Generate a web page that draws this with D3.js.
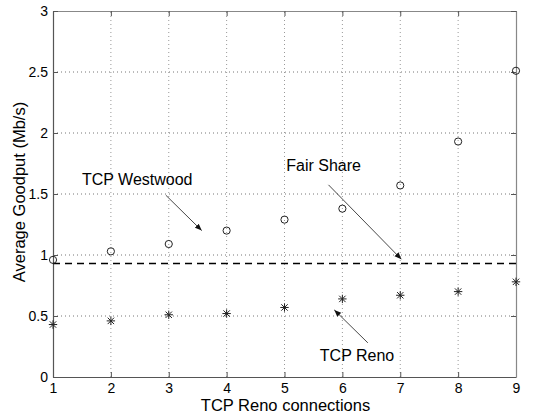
<!DOCTYPE html>
<html>
<head>
<meta charset="utf-8">
<script src="https://cdn.jsdelivr.net/npm/d3@7/dist/d3.min.js"></script>
<style>
  html, body { margin: 0; padding: 0; background: #fff; }
  svg { display: block; font-family: "Liberation Sans", Arial, Helvetica, sans-serif; }
</style>
</head>
<body>
<svg id="chart" width="539" height="420"></svg>
<script>
// Average goodput per flow vs. number of TCP Reno connections
const connections = [1, 2, 3, 4, 5, 6, 7, 8, 9];
const westwoodGoodput = [0.96, 1.03, 1.09, 1.20, 1.29, 1.38, 1.57, 1.93, 2.51];
const renoGoodput = [0.43, 0.46, 0.51, 0.52, 0.57, 0.64, 0.67, 0.70, 0.78];
const fairShare = 0.93;
const xTicks = [1, 2, 3, 4, 5, 6, 7, 8, 9];
const yTicks = [0, 0.5, 1, 1.5, 2, 2.5, 3];

// Text annotations with arrows, positioned in data units
const annotations = [
  { text: "TCP Westwood", tx: 1.50, ty: 1.575, from: [2.95, 1.49], to: [3.57, 1.20] },
  { text: "Fair Share", tx: 5.03, ty: 1.69, from: [5.76, 1.575], to: [7.02, 0.965] },
  { text: "TCP Reno", tx: 5.61, ty: 0.13, from: [6.44, 0.28], to: [5.86, 0.55] }
];

const svg = d3.select("#chart");
const margin = { left: 53, right: 23, top: 11, bottom: 43 };
const W = 539, H = 420;

const x = d3.scaleLinear().domain([1, 9]).range([margin.left, W - margin.right]);
const y = d3.scaleLinear().domain([0, 3]).range([H - margin.bottom, margin.top]);

const g = svg.append("g");

// dotted grid
g.append("g").selectAll("line").data(xTicks.slice(1, -1)).join("line")
  .attr("x1", d => x(d)).attr("x2", d => x(d))
  .attr("y1", y(0)).attr("y2", y(3))
  .attr("stroke", "#999").attr("stroke-width", 1).attr("stroke-dasharray", "1,3");
g.append("g").selectAll("line").data(yTicks.slice(1, -1)).join("line")
  .attr("x1", x(1)).attr("x2", x(9))
  .attr("y1", d => y(d)).attr("y2", d => y(d))
  .attr("stroke", "#777").attr("stroke-width", 1).attr("stroke-dasharray", "1,3");

// axes (ticks pointing inward, box on all sides)
const axisColor = "#555";
const axisB = g.append("g").attr("transform", `translate(0,${y(0)})`)
  .call(d3.axisBottom(x).tickValues(xTicks).tickFormat(d3.format("d")).tickSizeInner(-5).tickSizeOuter(0).tickPadding(6));
const axisT = g.append("g").attr("transform", `translate(0,${y(3)})`)
  .call(d3.axisTop(x).tickValues(xTicks).tickFormat("").tickSizeInner(-5).tickSizeOuter(0));
const axisL = g.append("g").attr("transform", `translate(${x(1)},0)`)
  .call(d3.axisLeft(y).tickValues(yTicks).tickFormat(d => String(d)).tickSizeInner(-5).tickSizeOuter(0).tickPadding(5));
const axisR = g.append("g").attr("transform", `translate(${x(9)},0)`)
  .call(d3.axisRight(y).tickValues(yTicks).tickFormat("").tickSizeInner(-5).tickSizeOuter(0));

[axisB, axisT, axisL, axisR].forEach(a => {
  a.select(".domain").attr("stroke", axisColor).attr("stroke-width", 1.2);
  a.selectAll(".tick line").attr("stroke", axisColor);
  a.selectAll("text").attr("fill", "#000").attr("font-size", 14)
    .attr("font-family", "Liberation Sans, Arial, sans-serif");
});
axisT.select(".domain").attr("stroke", "#888");
axisR.select(".domain").attr("stroke", "#888");

// fair share line
g.append("line")
  .attr("x1", x(1)).attr("x2", x(9))
  .attr("y1", y(fairShare)).attr("y2", y(fairShare))
  .attr("stroke", "#000").attr("stroke-width", 1.6).attr("stroke-dasharray", "7,5");

// Westwood markers: open circles
g.append("g").selectAll("circle").data(connections).join("circle")
  .attr("cx", d => x(d)).attr("cy", (d, i) => y(westwoodGoodput[i]))
  .attr("r", 3.6).attr("fill", "none").attr("stroke", "#222").attr("stroke-width", 1);

// Reno markers: asterisks
const star = g.append("g").selectAll("g").data(connections).join("g")
  .attr("transform", (d, i) => `translate(${x(d)},${y(renoGoodput[i])})`);
const s = 4.2, sd = 3.2;
star.append("path")
  .attr("d", `M${-s},0H${s}M0,${-s}V${s}M${-sd},${-sd}L${sd},${sd}M${-sd},${sd}L${sd},${-sd}`)
  .attr("stroke", "#222").attr("stroke-width", 1).attr("fill", "none");

// annotation arrows and text
svg.append("defs").append("marker")
  .attr("id", "head").attr("viewBox", "0 0 10 10").attr("refX", 10).attr("refY", 5)
  .attr("markerWidth", 7).attr("markerHeight", 7).attr("markerUnits", "userSpaceOnUse")
  .attr("orient", "auto")
  .append("path").attr("d", "M0,1L10,5L0,9Z").attr("fill", "#111");

const ann = g.append("g");
ann.selectAll("line").data(annotations).join("line")
  .attr("x1", d => x(d.from[0])).attr("y1", d => y(d.from[1]))
  .attr("x2", d => x(d.to[0])).attr("y2", d => y(d.to[1]))
  .attr("stroke", "#333").attr("stroke-width", 0.9).attr("marker-end", "url(#head)");
ann.selectAll("text").data(annotations).join("text")
  .attr("x", d => x(d.tx)).attr("y", d => y(d.ty))
  .attr("font-size", 16).attr("fill", "#000").text(d => d.text);

// axis titles
svg.append("text").attr("x", (x(1) + x(9)) / 2 + 1).attr("y", 411)
  .attr("text-anchor", "middle").attr("font-size", 16.5).text("TCP Reno connections");
svg.append("text")
  .attr("transform", `translate(25,${(y(0) + y(3)) / 2 - 2}) rotate(-90)`)
  .attr("text-anchor", "middle").attr("font-size", 16.5).text("Average Goodput (Mb/s)");
</script>
</body>
</html>
